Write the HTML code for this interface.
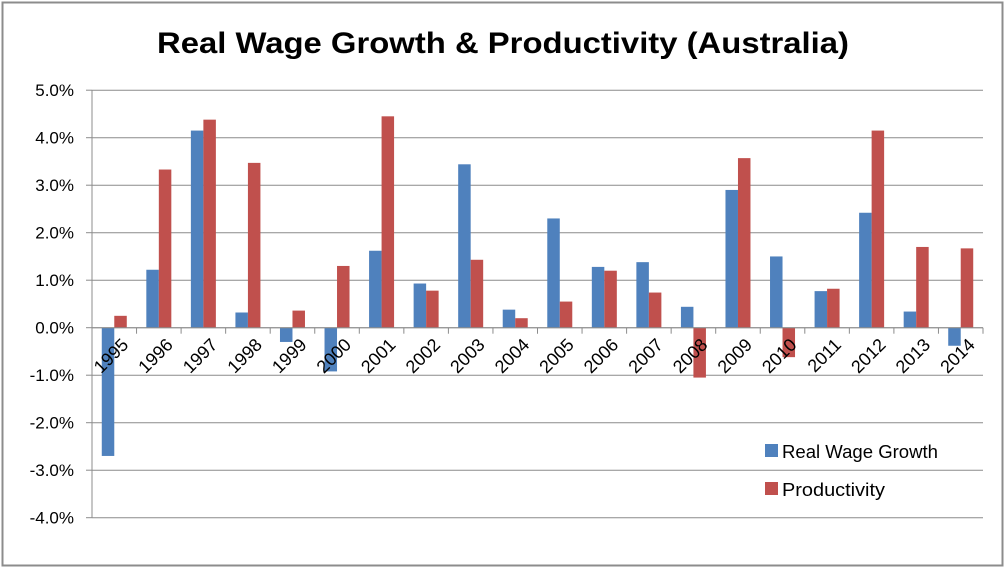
<!DOCTYPE html>
<html><head><meta charset="utf-8"><style>
html,body{margin:0;padding:0;background:#fff;}
svg{display:block;font-family:"Liberation Sans",Arial,sans-serif;}
</style></head><body>
<svg id="c" width="1006" height="569" viewBox="0 0 1006 569" xmlns="http://www.w3.org/2000/svg">
<rect x="0" y="0" width="1006" height="569" fill="#fff"/>
<rect x="2.5" y="2.5" width="1000" height="563" fill="none" stroke="#8c8c8c" stroke-width="2"/>
<text x="503" y="53" text-anchor="middle" font-size="30" font-weight="bold" textLength="692" lengthAdjust="spacingAndGlyphs" fill="#000">Real Wage Growth &amp; Productivity (Australia)</text>
<g id="g"></g>
<rect x="765" y="444" width="13" height="13" fill="#4f81bd"/>
<text x="782" y="458" font-size="18" fill="#000" textLength="156" lengthAdjust="spacingAndGlyphs">Real Wage Growth</text>
<rect x="765" y="482" width="13" height="13" fill="#c0504d"/>
<text x="782" y="496" font-size="18" fill="#000" textLength="103" lengthAdjust="spacingAndGlyphs">Productivity</text>
</svg>
<script>
var g=document.getElementById('g'),h='';
var L=92,R=983,Z=327.7,S=47.5,W=(R-L)/20;
for(var v=5;v>=-4;v--){var y=Z-v*S;
 h+='<line x1="'+L+'" x2="'+R+'" y1="'+y+'" y2="'+y+'" stroke="#8c8c8c" stroke-width="1"/>';
 h+='<line x1="'+(L-6)+'" x2="'+L+'" y1="'+y+'" y2="'+y+'" stroke="#8c8c8c"/>';
 h+='<text x="74" y="'+(y+6)+'" text-anchor="end" font-size="17" fill="#000">'+v.toFixed(1)+'%</text>';}
h+='<line x1="'+L+'" x2="'+L+'" y1="'+(Z-5*S)+'" y2="'+(Z+4*S)+'" stroke="#8c8c8c"/>';
var b=[-2.7,1.22,4.15,0.32,-0.3,-0.92,1.62,0.93,3.44,0.38,2.3,1.28,1.38,0.44,2.9,1.5,0.77,2.42,0.34,-0.38];
var r=[0.25,3.33,4.38,3.47,0.36,1.3,4.45,0.78,1.43,0.2,0.55,1.2,0.74,-1.05,3.57,-0.62,0.82,4.15,1.7,1.67];
var bw=12.5;
for(var i=0;i<20;i++){var c=L+W*i+W/2;
 [[b[i],'#4f81bd',c-bw],[r[i],'#c0504d',c]].forEach(function(d){var y=d[0]>=0?Z-d[0]*S:Z;var hh=Math.abs(d[0])*S;
  h+='<rect x="'+d[2]+'" y="'+y+'" width="'+bw+'" height="'+hh+'" fill="'+d[1]+'"/>';});
}
h+='<line x1="'+L+'" x2="'+R+'" y1="'+Z+'" y2="'+Z+'" stroke="#8c8c8c"/>';
for(var i=0;i<=20;i++){var x=L+W*i;h+='<line x1="'+x+'" x2="'+x+'" y1="'+Z+'" y2="'+(Z+6)+'" stroke="#8c8c8c"/>';}
for(var i=0;i<20;i++){var c=L+W*i+W/2+6,y=Z+9;
 h+='<text x="'+c+'" y="'+(y+13)+'" text-anchor="end" font-size="18" fill="#000" transform="rotate(-45 '+c+' '+y+')">'+(1995+i)+'</text>';}
g.innerHTML=h;
</script>
</body></html>
